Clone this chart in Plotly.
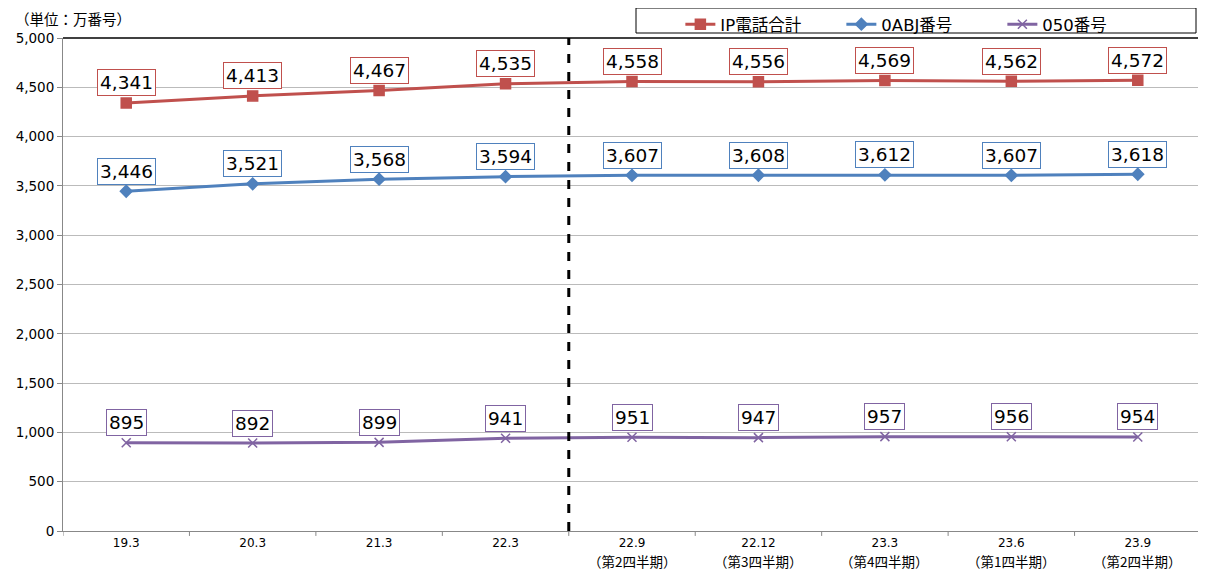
import plotly.graph_objects as go

cat_dates = ["19.3", "20.3", "21.3", "22.3", "22.9", "22.12", "23.3", "23.6", "23.9"]
cat_quarters = ["", "", "", "", "（第2四半期）", "（第3四半期）", "（第4四半期）", "（第1四半期）", "（第2四半期）"]
ip_total = [4341, 4413, 4467, 4535, 4558, 4556, 4569, 4562, 4572]
abj = [3446, 3521, 3568, 3594, 3607, 3608, 3612, 3607, 3618]
n050 = [895, 892, 899, 941, 951, 947, 957, 956, 954]
y_ticks = [0, 500, 1000, 1500, 2000, 2500, 3000, 3500, 4000, 4500, 5000]

FONT = "DejaVu Sans, Noto Sans CJK JP, sans-serif"
JP_FONT = "Noto Sans CJK JP, sans-serif"
series = [
    ("IP電話合計", ip_total, "#C0504D", "square", 10),
    ("0ABJ番号", abj, "#4F81BD", "diamond", 9),
    ("050番号", n050, "#8064A2", "x-thin-open", 9),
]

fig = go.Figure()
idx = list(range(len(cat_dates)))
annotations = []
for name, vals, color, sym, sz in series:
    fig.add_trace(go.Scatter(
        x=idx, y=vals, name=name, mode="lines+markers",
        line=dict(color=color, width=3),
        marker=dict(symbol=sym, size=sz, color=color, line=dict(color=color, width=1.5)),
    ))
    for i, v in zip(idx, vals):
        annotations.append(dict(
            x=i, y=v, xref="x", yref="y", text=f"{v:,}", showarrow=False,
            yshift=20, font=dict(family=FONT, size=18.5, color="black"),
            bgcolor="white", bordercolor=color, borderwidth=1, borderpad=2,
        ))

# second line of the category labels (quarter names)
for i, q in zip(idx, cat_quarters):
    if q:
        annotations.append(dict(
            x=i, y=0, xref="x", yref="paper", text=q, showarrow=False,
            yanchor="middle", yshift=-30, borderpad=0,
            font=dict(family=JP_FONT, size=13.5, color="black"),
        ))

annotations.append(dict(
    x=0, y=1.0, xref="paper", yref="paper", xanchor="left", yanchor="bottom",
    text="（単位：万番号）", showarrow=False, xshift=-50, yshift=7,
    font=dict(family=JP_FONT, size=14.5, color="black"),
))

fig.update_layout(
    width=1198, height=563,
    margin=dict(l=55, r=5, t=30, b=40, autoexpand=False),
    paper_bgcolor="white", plot_bgcolor="white",
    font=dict(family=FONT, color="black"),
    annotations=annotations,
    showlegend=True,
    legend=dict(
        orientation="h", x=0.5425, xanchor="left", y=1.063, yanchor="top",
        borderwidth=0, bgcolor="rgba(0,0,0,0)",
        font=dict(family=FONT, size=16.5, color="black"),
        entrywidth=116, entrywidthmode="pixels",
        tracegroupgap=0,
    ),
    xaxis=dict(
        tickmode="array", tickvals=idx, ticktext=cat_dates,
        range=[-0.5, len(cat_dates) - 0.5],
        showgrid=False, showline=True, linecolor="#888888", linewidth=1,
        ticks="", ticklabelstandoff=1,
        tickfont=dict(family=FONT, size=12, color="black"),
        zeroline=False,
    ),
    yaxis=dict(
        range=[0, 5000], tickvals=y_ticks, tickformat=",d",
        showgrid=True, gridcolor="#BBBBBB", gridwidth=1,
        showline=True, linecolor="#888888", linewidth=1,
        ticks="outside", ticklen=5, tickcolor="#888888",
        tickfont=dict(family=FONT, size=13.5, color="black"),
        zeroline=False,
    ),
)

shapes = []
for b in range(len(cat_dates) + 1):
    shapes.append(dict(type="line", xref="x", yref="paper", x0=b - 0.5, x1=b - 0.5,
                       y0=0, y1=-0.01, line=dict(color="#888888", width=1)))
shapes.append(dict(type="line", xref="paper", yref="paper", x0=0, x1=1.01, y0=1, y1=1,
                   line=dict(color="black", width=1.5)))
shapes.append(dict(type="rect", xref="paper", yref="paper",
                   x0=(636 - 63) / 1138, x1=(1196 - 63) / 1138,
                   y0=1 + 5 / 493, y1=1 + 30 / 493,
                   line=dict(color="black", width=1), fillcolor="white", layer="below"))
shapes.append(dict(type="line", xref="x", yref="paper", x0=3.5, x1=3.5, y0=0, y1=1,
                   line=dict(color="black", width=3, dash="dash")))
fig.update_layout(shapes=shapes)

fig.write_html("out.html")
